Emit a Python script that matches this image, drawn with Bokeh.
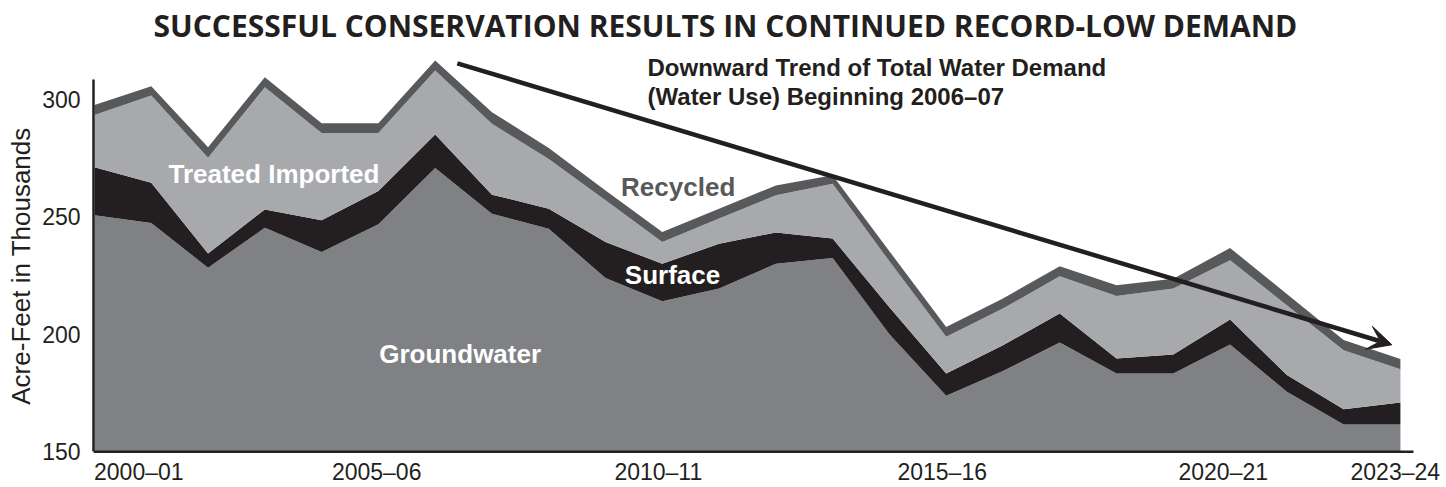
from bokeh.plotting import figure
from bokeh.models import (ColumnDataSource, FixedTicker, Range1d, Label, LabelSet,
                          Arrow, VeeHead)
from bokeh.core.properties import value
from bokeh.transform import stack
from bokeh.embed import file_html
from bokeh.resources import INLINE

# ---- data (thousand acre-feet) ----
fiscal_years = ["2000–01", "2001–02", "2002–03", "2003–04", "2004–05", "2005–06",
                "2006–07", "2007–08", "2008–09", "2009–10", "2010–11", "2011–12",
                "2012–13", "2013–14", "2014–15", "2015–16", "2016–17", "2017–18",
                "2018–19", "2019–20", "2020–21", "2021–22", "2022–23", "2023–24"]
groundwater = [250.6, 247.3, 228.3, 245.3, 235.0, 246.8, 270.7, 251.3, 244.9, 223.9,
               214.0, 219.4, 230.0, 232.4, 200.0, 173.8, 184.3, 196.5, 183.3, 183.3,
               195.6, 175.5, 161.6, 161.6]
surface = [20.5, 17.2, 6.0, 7.8, 13.5, 14.1, 14.3, 8.1, 8.5, 15.3,
           16.0, 19.1, 13.3, 8.3, 11.5, 9.5, 11.0, 12.3, 6.4, 8.1,
           10.6, 7.1, 6.5, 9.3]
treated_imported = [22.2, 37.1, 40.8, 52.0, 37.1, 24.7, 27.2, 30.2, 21.2, 17.8,
                    9.2, 10.7, 15.8, 23.3, 19.5, 15.6, 15.6, 15.9, 26.6, 28.0,
                    25.3, 29.7, 25.1, 14.2]
recycled = [4.3, 3.9, 4.5, 4.3, 4.2, 4.2, 4.3, 4.9, 4.6, 4.2,
            4.3, 4.2, 4.2, 3.6, 4.3, 4.2, 4.3, 4.2, 4.5, 4.2,
            5.2, 4.8, 4.3, 4.3]
tick_years = ["2000–01", "2005–06", "2010–11", "2015–16", "2020–21", "2023–24"]
# where each year label is centred along the year axis (as laid out in the original)
tick_label_pos = [0.78, 4.97, 9.93, 14.93, 19.88, 22.91]
y_ticks = [150, 200, 250, 300]
y_base = 150                      # value axis starts at 150
x_axis_extent = (-0.0176, 23.23)  # horizontal extent of the year axis line
y_axis_extent = (150, 308.5)      # vertical extent of the value axis line
# trend arrow endpoints (year index, thousand acre-feet)
trend_start = (6.39, 315.3)
trend_end = (22.85, 195.5)

DARK = "#231f20"
C_GW = "#808184"
C_SURF = "#231f20"
C_TREAT = "#a7a9ac"
C_REC = "#58595b"

idx = list(range(len(fiscal_years)))
src = ColumnDataSource(dict(idx=idx, groundwater=groundwater, surface=surface,
                            treated=treated_imported, recycled=recycled))

p = figure(width=1440, height=484, output_backend="svg", toolbar_location=None,
           x_range=Range1d(-0.0176, 23.706), y_range=Range1d(136.02, 322.03),
           x_axis_location=None,
           min_border_left=93, min_border_right=0, min_border_top=45,
           min_border_bottom=0)
p.outline_line_color = None
p.xgrid.visible = False
p.ygrid.visible = False
p.background_fill_color = "white"

# stacked areas, starting at the 150 baseline
g, s, t, r = "groundwater", "surface", "treated", "recycled"
p.varea(x="idx", y1=y_base, y2=g, color=C_GW, source=src)
p.varea(x="idx", y1=stack(g), y2=stack(g, s), color=C_SURF, source=src)
p.varea(x="idx", y1=stack(g, s), y2=stack(g, s, t), color=C_TREAT, source=src)
p.varea(x="idx", y1=stack(g, s, t), y2=stack(g, s, t, r), color=C_REC, source=src)

# year axis line
p.segment(x0=[x_axis_extent[0]], y0=[y_base], x1=[x_axis_extent[1]], y1=[y_base],
          line_color=DARK, line_width=2.5)

# value axis
ya = p.yaxis[0]
ya.ticker = FixedTicker(ticks=y_ticks)
ya.bounds = y_axis_extent
ya.axis_line_color = DARK
ya.axis_line_width = 2.5
ya.major_tick_line_color = None
ya.minor_tick_line_color = None
ya.major_tick_out = 0
ya.major_tick_in = 0
ya.minor_tick_out = 0
ya.major_label_text_font = "Liberation Sans"
ya.major_label_text_font_size = "23px"
ya.major_label_text_color = DARK
ya.major_label_standoff = 13
ya.axis_label = "Acre-Feet in Thousands"
ya.axis_label_text_font = "Liberation Sans"
ya.axis_label_text_font_size = "26px"
ya.axis_label_text_font_style = "normal"
ya.axis_label_text_color = DARK
ya.axis_label_standoff = 3

# year labels
lab_src = ColumnDataSource(dict(x=tick_label_pos, y=[y_base] * len(tick_years),
                                text=tick_years))
p.add_layout(LabelSet(x="x", y="y", text="text", source=lab_src, y_offset=-20,
                      text_align="center", text_baseline="middle",
                      text_font=value("Liberation Sans"), text_font_size=value("23px"),
                      text_color=value(DARK)))


def add_label(txt, x, y, color, size, align="center"):
    p.add_layout(Label(x=x, y=y, text=txt, text_color=color, text_font="Liberation Sans",
                       text_font_size=size, text_font_style="bold",
                       text_align=align, text_baseline="middle"))


add_label("Treated Imported", 3.16, 268.2, "white", "26px")
add_label("Groundwater", 6.44, 191.7, "white", "26px")
add_label("Surface", 10.18, 225.4, "white", "26px")
add_label("Recycled", 10.28, 262.7, C_REC, "26px")
add_label("Downward Trend of Total Water Demand", 9.74, 313.6, DARK, "24px", align="left")
add_label("(Water Use) Beginning 2006–07", 9.74, 301.3, DARK, "24px", align="left")

# title
p.title.text = "SUCCESSFUL CONSERVATION RESULTS IN CONTINUED RECORD-LOW DEMAND"
p.title.text_font = "Open Sans"
p.title.text_font_size = "30px"
p.title.text_font_style = "bold"
p.title.text_color = DARK
p.title.align = "left"
p.title.offset = 60
p.title.standoff = 4

p.add_layout(Arrow(end=VeeHead(size=24, fill_color=DARK, line_color=DARK, line_width=1),
                   x_start=trend_start[0], y_start=trend_start[1],
                   x_end=trend_end[0], y_end=trend_end[1],
                   line_color=DARK, line_width=4.5))

open("out.html", "w").write(file_html(p, INLINE))
